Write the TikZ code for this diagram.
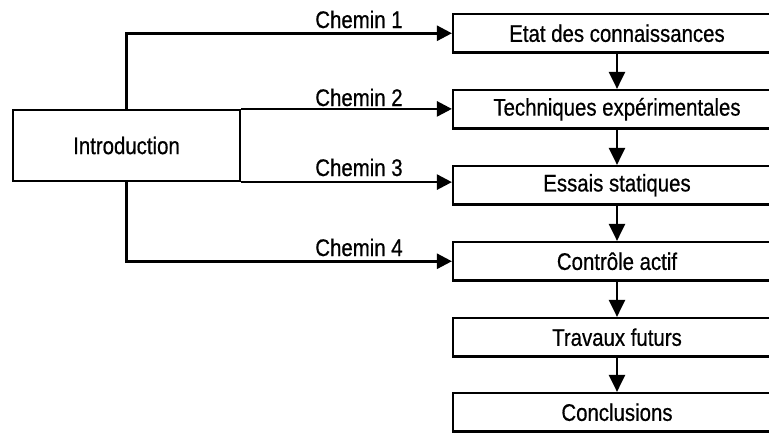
\documentclass[tikz,border=0pt]{standalone}
\usepackage{fontspec}
\setmainfont{Liberation Sans}[FakeStretch=0.85,FakeBold=0.6]
\usetikzlibrary{arrows.meta,calc}
\begin{document}
\begin{tikzpicture}[x=1pt,y=-1pt,
  box/.style={draw,line width=2.2pt,rectangle,inner sep=0pt,minimum width=328pt,minimum height=38.5pt,
    font=\fontsize{24}{28}\selectfont},
  introbox/.style={draw,line width=2.2pt,rectangle,inner sep=0pt,minimum width=227pt,minimum height=71pt,
    font=\fontsize{24}{28}\selectfont},
  conn/.style={line width=2.6pt,-{Triangle[length=15pt,width=15pt]}},
  vconn/.style={line width=2.6pt,-{Triangle[length=17pt,width=16pt]}},
  lab/.style={anchor=base,inner sep=0pt,font=\fontsize{24}{28}\selectfont}]
\useasboundingbox (0,0) rectangle (769,432);
\clip (0,0) rectangle (769,432);
\node[introbox] (intro) at (126.5,145.5) {Introduction};
\node[box] (b1) at (617,33.25) {Etat des connaissances};
\node[box] (b2) at (617,109.25) {Techniques expérimentales};
\node[box] (b3) at (617,185.25) {Essais statiques};
\node[box] (b4) at (617,261.25) {Contrôle actif};
\node[box] (b5) at (617,337.25) {Travaux futurs};
\node[box] (b6) at (617,412.25) {Conclusions};
\draw[conn] (intro.north) |- (b1.west);
\draw[conn] (intro.north east) -- (intro.north east -| b2.west);
\draw[conn] (intro.south east) -- (intro.south east -| b3.west);
\draw[conn] (intro.south) |- (b4.west);
\draw[vconn] (b1.south) -- (b2.north);
\draw[vconn] (b2.south) -- (b3.north);
\draw[vconn] (b3.south) -- (b4.north);
\draw[vconn] (b4.south) -- (b5.north);
\draw[vconn] (b5.south) -- (b6.north);
\node[lab] (l1) at (359,28) {Chemin 1};
\node[lab] (l2) at (359,106) {Chemin 2};
\node[lab] (l3) at (359,176) {Chemin 3};
\node[lab] (l4) at (359,256) {Chemin 4};
\end{tikzpicture}
\end{document}
